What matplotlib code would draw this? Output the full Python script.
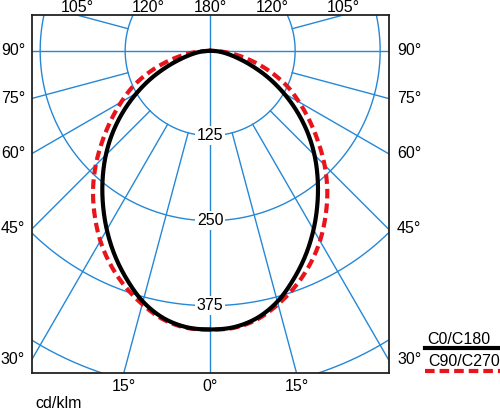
import numpy as np
import matplotlib.pyplot as plt
from matplotlib.lines import Line2D

plt.rcParams['font.family'] = ['Liberation Sans', 'DejaVu Sans']

# intensity distribution (cd/klm), gamma in degrees
gamma = [0, 5, 10, 15, 20, 25, 30, 35, 40, 45, 50, 55, 60, 65, 70, 75, 80, 85, 90]
c0_c180 = [410, 408, 399, 382, 358, 332, 304, 275, 246, 217, 187, 156, 125, 95, 66, 42, 25, 12, 0]
c90_c270 = [410, 409, 401, 386, 368, 347, 323, 296, 268, 238, 207, 178, 151, 126, 98, 70, 44, 21, 0]

rings = [125, 250, 375, 500]
ring_labels = ['125', '250', '375']
left_angles = [90, 75, 60, 45, 30]
top_angles = [105, 120, 180]
bottom_angles = [15, 0]
series_names = ['C0/C180', 'C90/C270']

grid_col = '#2588d6'
red = '#e8141b'
W, H = 500, 409
fs = 11.5


def spline(px, py, n=16):
    # centripetal catmull-rom through the read points, only to draw a round curve
    P = np.column_stack([px, py]).astype(float)
    P = np.vstack([2 * P[0] - P[1], P, 2 * P[-1] - P[-2]])
    out = []
    for i in range(1, len(P) - 2):
        p0, p1, p2, p3 = P[i - 1], P[i], P[i + 1], P[i + 2]
        t0 = 0.0
        t1 = t0 + max(np.linalg.norm(p1 - p0), 1e-6) ** 0.5
        t2 = t1 + max(np.linalg.norm(p2 - p1), 1e-6) ** 0.5
        t3 = t2 + max(np.linalg.norm(p3 - p2), 1e-6) ** 0.5
        tt = np.linspace(t1, t2, n, endpoint=False)[:, None]
        a1 = (t1 - tt) / (t1 - t0) * p0 + (tt - t0) / (t1 - t0) * p1
        a2 = (t2 - tt) / (t2 - t1) * p1 + (tt - t1) / (t2 - t1) * p2
        a3 = (t3 - tt) / (t3 - t2) * p2 + (tt - t2) / (t3 - t2) * p3
        b1 = (t2 - tt) / (t2 - t0) * a1 + (tt - t0) / (t2 - t0) * a2
        b2 = (t3 - tt) / (t3 - t1) * a2 + (tt - t1) / (t3 - t1) * a3
        out.append((t2 - tt) / (t2 - t1) * b1 + (tt - t1) / (t2 - t1) * b2)
    out.append(P[-2][None, :])
    c = np.vstack(out)
    return c[:, 0], c[:, 1]


fig = plt.figure(figsize=(5.0, 4.09), dpi=100)
# axes box in pixels: left 32, top 15, right 389, bottom 373
ax = fig.add_axes([32 / W, 1 - 373 / H, 357 / W, 358 / H])
xmin, xmax = -262, 263
ymin, ymax = -474, 52.5
ax.set_xlim(xmin, xmax)
ax.set_ylim(ymin, ymax)
ax.set_aspect('equal')
ax.set_xticks([])
ax.set_yticks([])
for s in ax.spines.values():
    s.set_color('#222222')
    s.set_linewidth(1.3)

# grid circles
t = np.linspace(0, 2 * np.pi, 720)
for r in rings:
    ax.plot(r * np.sin(t), r * np.cos(t), color=grid_col, lw=1.0, zorder=1)

# radial lines every 15 degrees, starting at the first ring
for a in range(0, 360, 15):
    th = np.radians(a)
    r0 = 0 if a % 90 == 0 else rings[0]
    ax.plot([r0 * np.sin(th), 800 * np.sin(th)], [-r0 * np.cos(th), -800 * np.cos(th)],
            color=grid_col, lw=1.0, zorder=1)

# ring labels on the vertical axis
for r, lab in zip(rings, ring_labels):
    ax.text(0, -r, lab, ha='center', va='center', fontsize=fs, zorder=3,
            bbox=dict(boxstyle='square,pad=0.12', fc='white', ec='none'))

# curves, mirrored on both sides
g_half = np.radians(gamma)
g_full = np.concatenate([-g_half[::-1], g_half[1:]])
for vals, style in [(c90_c270, dict(color=red, ls=(0, (2.3, 1.2)), lw=3.0, zorder=4)),
                    (c0_c180, dict(color='black', lw=3.0, zorder=5))]:
    v = np.array(vals, float)
    v_full = np.concatenate([v[::-1], v[1:]])
    xs, ys = spline(v_full * np.sin(g_full), -v_full * np.cos(g_full))
    ax.plot(xs, ys, solid_capstyle='round', **style)

# angle labels
for a in left_angles:
    th = np.radians(a)
    y = xmin * np.cos(th) / np.sin(th) if a != 90 else 0
    ax.text(xmin - 7 / 0.68, y, f'{a}°', ha='right', va='center', fontsize=fs, clip_on=False)
    ax.text(xmax + 8 / 0.68, y, f'{a}°', ha='left', va='center', fontsize=fs, clip_on=False)
for a in top_angles:
    th = np.radians(a)
    x = 0 if a == 180 else -ymax * np.sin(th) / np.cos(th)
    for sx in ([1] if a == 180 else [1, -1]):
        ax.text(-sx * abs(x), ymax + 8 / 0.68, f'{a}°', ha='center', va='center',
                fontsize=fs, clip_on=False)
for a in bottom_angles:
    x = -ymin * np.tan(np.radians(a))
    for sx in ([1] if a == 0 else [1, -1]):
        ax.text(sx * x, ymin - 14 / 0.68, f'{a}°', ha='center', va='center',
                fontsize=fs, clip_on=False)

fig.text(35 / W, 1 - 403 / H, 'cd/klm', ha='left', va='center', fontsize=fs)

# legend drawn by hand at the lower right
fig.text(427 / W, 1 - 340 / H, series_names[0], ha='left', va='center', fontsize=fs)
fig.text(428 / W, 1 - 362 / H, series_names[1], ha='left', va='center', fontsize=fs)
fig.add_artist(Line2D([425 / W, 1.0], [1 - 348 / H] * 2, color='black', lw=3.0))
fig.add_artist(Line2D([425 / W, 1.0], [1 - 371 / H] * 2, color=red, lw=3.0,
                      ls=(0, (2.3, 1.2))))

fig.savefig('out.png', dpi=100)
